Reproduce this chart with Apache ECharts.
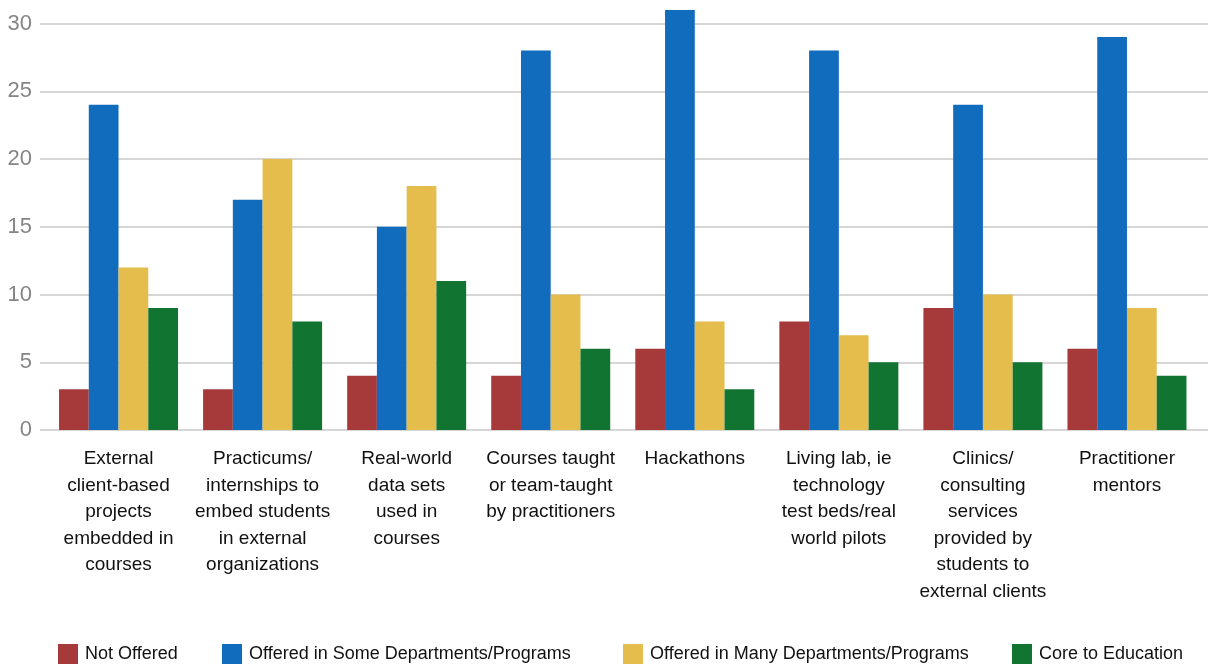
<!DOCTYPE html>
<html>
<head>
<meta charset="utf-8">
<script src="https://cdn.jsdelivr.net/npm/echarts@6/dist/echarts.min.js"></script>
<style>
html,body{margin:0;padding:0;background:#fff;}
#c{width:1210px;height:666px;}
</style>
</head>
<body>
<div id="c"></div>
<script>
const categories = [
  "External\nclient-based\nprojects\nembedded in\ncourses",
  "Practicums/\ninternships to\nembed students\nin external\norganizations",
  "Real-world\ndata sets\nused in\ncourses",
  "Courses taught\nor team-taught\nby practitioners",
  "Hackathons",
  "Living lab, ie\ntechnology\ntest beds/real\nworld pilots",
  "Clinics/\nconsulting\nservices\nprovided by\nstudents to\nexternal clients",
  "Practitioner\nmentors"
];
const seriesNames = ["Not Offered","Offered in Some Departments/Programs","Offered in Many Departments/Programs","Core to Education"];
const notOffered = [3, 3, 4, 4, 6, 8, 9, 6];
const someDepts  = [24, 17, 15, 28, 31, 28, 24, 29];
const manyDepts  = [12, 20, 18, 10, 8, 7, 10, 9];
const coreEdu    = [9, 8, 11, 6, 3, 5, 5, 4];
const yTicks = [0, 5, 10, 15, 20, 25, 30];

const colors = ["#a63a3a", "#116cbd", "#e5bd4d", "#127431"];
const values = [notOffered, someDepts, manyDepts, coreEdu];
const legendLeft = [58, 222, 623, 1012];

const chart = echarts.init(document.getElementById('c'), null, {renderer:'canvas'});
const font = "'Liberation Sans', Arial, sans-serif";
const option = {
  animation: false,
  color: colors,
  grid: [
    {left: 46.5, right: 11, top: 23.5, bottom: 236},
    {left: 40, right: 2, top: 23.5, bottom: 236}
  ],
  legend: seriesNames.map((n, i) => ({
    data: [n],
    left: legendLeft[i],
    top: 644,
    padding: 0,
    itemWidth: 20,
    itemHeight: 20,
    itemGap: 0,
    icon: 'rect',
    textStyle: {fontFamily: font, fontSize: 18, color: '#111', padding: [0,0,0,2]}
  })),
  xAxis: [
    {
      type: 'category', gridIndex: 0, data: categories,
      axisLine: {show: false}, axisTick: {show: false},
      axisLabel: {interval: 0, margin: 16, fontFamily: font, fontSize: 19, color: '#111', lineHeight: 26.5}
    },
    {type: 'value', gridIndex: 1, show: false, min: 0, max: 1}
  ],
  yAxis: [
    {type: 'value', gridIndex: 0, min: 0, max: 30, interval: 5, show: false, splitLine: {show: false}},
    {
      type: 'value', gridIndex: 1, min: 0, max: 30, interval: 5,
      axisLine: {show: false}, axisTick: {show: false},
      axisLabel: {margin: 8, fontFamily: font, fontSize: 22, color: '#858585'},
      splitLine: {lineStyle: {color: '#d6d6d6', width: 2}}
    }
  ],
  series: seriesNames.map((n, i) => ({
    name: n,
    type: 'bar',
    xAxisIndex: 0, yAxisIndex: 0,
    data: values[i],
    barGap: '0%',
    barCategoryGap: '17.4%',
    clip: false,
    itemStyle: {color: colors[i]}
  }))
};
chart.setOption(option);
</script>
</body>
</html>
